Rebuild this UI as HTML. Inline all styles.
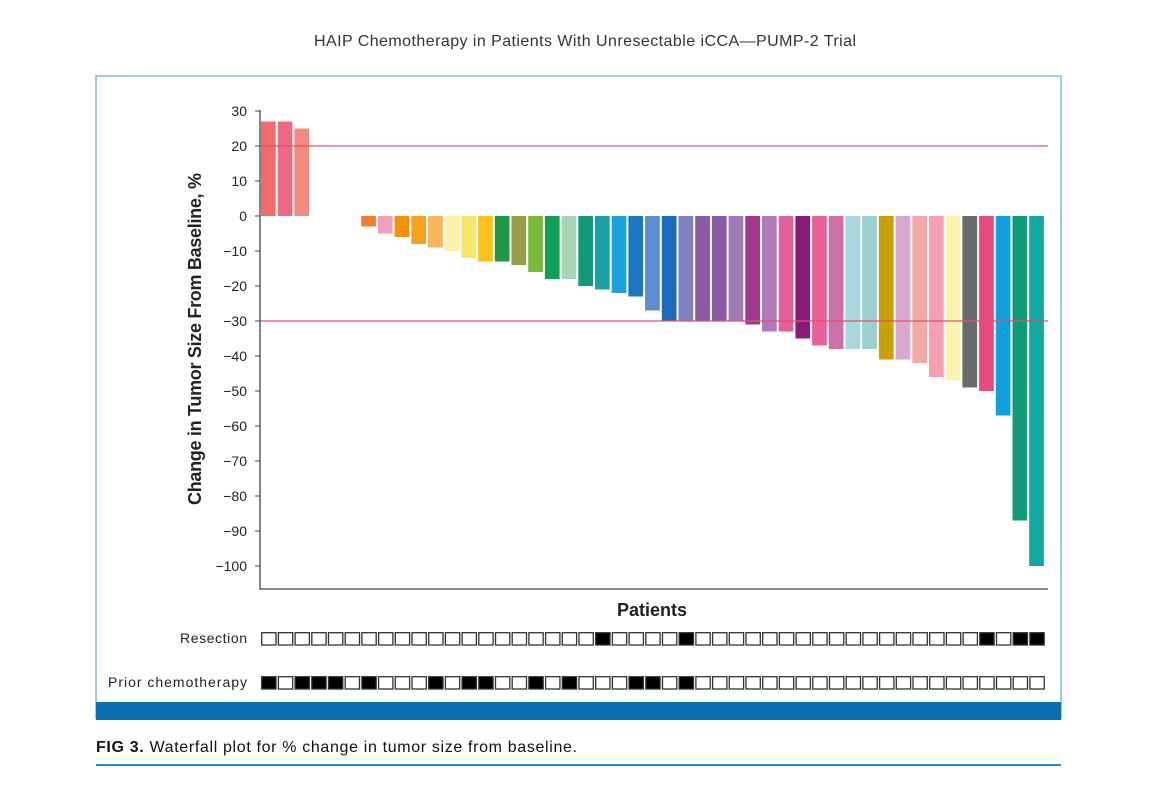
<!DOCTYPE html>
<html><head><meta charset="utf-8"><style>
body{margin:0;background:#fff;width:1170px;height:794px;overflow:hidden;font-family:"Liberation Sans",sans-serif}
</style></head><body>
<svg id="chart" width="1170" height="794" xmlns="http://www.w3.org/2000/svg" font-family="Liberation Sans, sans-serif">
<text x="585" y="46" text-anchor="middle" font-size="16" fill="#333" textLength="542">HAIP Chemotherapy in Patients With Unresectable iCCA—PUMP-2 Trial</text>
<rect x="96" y="76" width="965" height="642" fill="none" stroke="#7fb8dc" stroke-width="1.5"/>
<rect x="96" y="702" width="965" height="18" fill="#0a6fb0"/>
<text x="96" y="752" font-size="16" fill="#111" textLength="481"><tspan font-weight="bold">FIG 3.</tspan>  Waterfall plot for % change in tumor size from baseline.</text>
<rect x="96" y="764" width="965" height="2" fill="#2a8ccc"/>
<g id="plot"></g>
</svg>
<script>
const patients=[...Array(47).keys()];
const changes=[27,27,25,0,0,0,-3,-5,-6,-8,-9,-10,-12,-13,-13,-14,-16,-18,-18,-20,-21,-22,-23,-27,-30,-30,-30,-30,-30,-31,-33,-33,-35,-37,-38,-38,-38,-41,-41,-42,-46,-47,-49,-50,-57,-87,-100];
const colors=["#f06b6b","#ec6a86","#f28a7d","#fff","#fff","#fff","#f47c30","#f4a0bd","#f39200","#f7a21b","#f9b45c","#fdf0a8","#f5e66a","#fcc11a","#1a9a45","#9a9a4a","#7bb93a","#11a05a","#a8d5b5","#109a7a","#19a0a8","#1da0e0","#1a78c2","#5b8fd0","#1c6bbf","#8181c0","#8a5aa8","#8a5aa8","#a07ab8","#a03a90","#b07ab8","#e0609a","#8a1a7a","#ea6098","#d070a8","#a8d8e0","#9ad0d0","#c8a000","#d8a8d0","#f4a8a8","#f4a0b0","#fdf3b0","#6a6a6a","#e84a80","#10a0e0","#109a78","#10a8a0"];
const resection=[20,25,43,45,46];
const priorChemo=[0,2,3,4,6,10,12,13,16,18,22,23,25];
const yTicks=[30,20,10,0,-10,-20,-30,-40,-50,-60,-70,-80,-90,-100];
const refLines=[20,-30];
const NS="http://www.w3.org/2000/svg";
const g=document.getElementById('plot');
const y=v=>216-v*3.5;
const x=i=>261+i*16.7;
function el(t,a){const e=document.createElementNS(NS,t);for(const k in a)e.setAttribute(k,a[k]);g.appendChild(e);return e;}
patients.forEach(i=>{const v=changes[i];if(v===0)return;
 const r=el('rect',{x:x(i),y:Math.min(y(v),y(0)),width:14.7,height:Math.abs(y(v)-y(0)),fill:colors[i]});
 
 });
refLines.forEach(v=>{const l=el('line',{x1:260,x2:1048,y1:y(v),y2:y(v),stroke:'#e0506a','stroke-width':1.3});
 
 });
const ax=el('path',{d:'M260 110 V589 H1048',fill:'none',stroke:'#444','stroke-width':1.3});


yTicks.forEach(v=>{const t=el('line',{x1:255,x2:260,y1:y(v),y2:y(v),stroke:'#444'});
 
 
 const tx=el('text',{x:247,y:y(v)+5,'text-anchor':'end','font-size':14,fill:'#222'});
 tx.textContent=v<0?'−'+Math.abs(v):String(v);
 
 });
const yl=el('text',{x:0,y:0,transform:'translate(201,339) rotate(-90)','text-anchor':'middle','font-size':18,'font-weight':'bold',fill:'#222',textLength:332});
yl.textContent='Change in Tumor Size From Baseline, %';


const xl=el('text',{x:652,y:616,'text-anchor':'middle','font-size':18,'font-weight':'bold',fill:'#222'});
xl.textContent='Patients';


[['Resection',resection,632,180],['Prior chemotherapy',priorChemo,676,108]].forEach(([lab,arr,yy,lx])=>{
 const t=el('text',{x:lx,y:yy+11,'font-size':14,fill:'#222',textLength:247-lx});
 t.textContent=lab;
 
 
 patients.forEach(i=>{const s=el('rect',{x:x(i)+0.7,y:yy+0.7,width:14.3,height:12.3,fill:arr.includes(i)?'#000':'#fff',stroke:'#333','stroke-width':1.3});
  
  });
});
</script>
</body></html>
